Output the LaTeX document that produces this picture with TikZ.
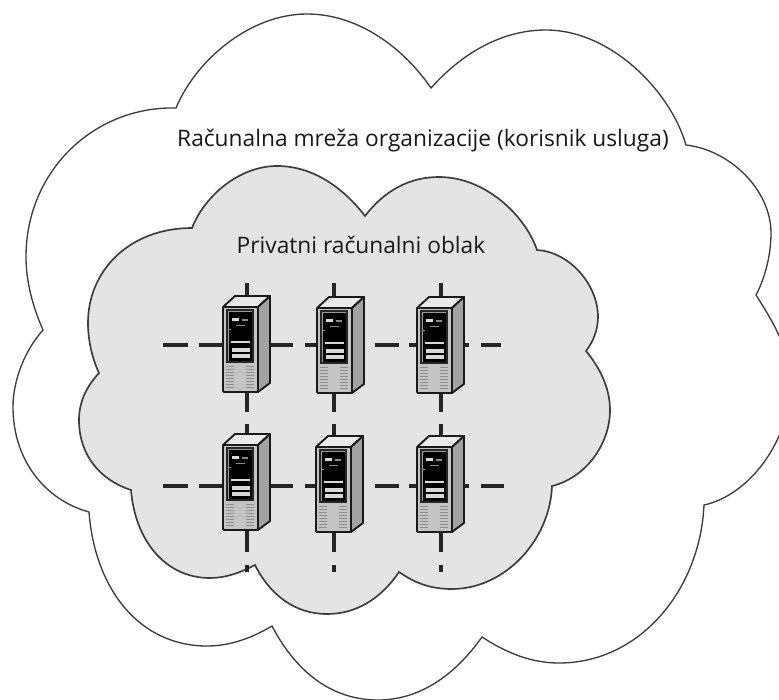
\documentclass[tikz,border=0pt]{standalone}
\usepackage{fontspec}
\setmainfont{Open Sans}
\definecolor{cloudfill}{HTML}{E4E4E4}
\definecolor{cloudline}{HTML}{3C3C3C}
\definecolor{srvfront}{HTML}{C4C4C4}
\definecolor{srvtop}{HTML}{EAEAEA}
\definecolor{srvside}{HTML}{A2A2A2}
\definecolor{srvgap}{HTML}{9A9A9A}
\definecolor{srvslat}{HTML}{8C8C8C}
\definecolor{srvbar}{HTML}{D8D8D8}
\definecolor{srvled}{HTML}{7FA87F}
\tikzset{
  outerline/.style={draw=cloudline,line width=1pt,line join=miter},
  innerline/.style={draw=cloudline,line width=1.25pt,line join=miter},
  wire/.style={draw=black!85,line width=2.3pt},
  junction/.style={inner sep=0pt,minimum size=0pt,outer sep=0pt},
  srvedge/.style={draw=black!90,line width=1.4pt,line join=round},
  slat/.style={draw=srvslat,line width=0.5pt},
  caption/.style={font=\fontsize{17.05pt}{20pt}\selectfont,text=black!90,inner sep=0pt,anchor=center},
}
\newcommand{\serverbox}[2]{%
\begin{scope}[shift={(#1,#2)}]
  \draw[srvedge,fill=srvtop] (0,0) -- (12,-11) -- (47,-11) -- (35,0) -- cycle;
  \draw[srvedge,fill=srvside] (35,0) -- (47,-11) -- (47,76) -- (35,85) -- cycle;
  \draw[srvedge,fill=srvfront,rounded corners=0.8pt] (0,0) rectangle (35,85);
  \draw[draw=black!85,line width=1pt,fill=srvgap] (4,3) rectangle (30,55);
  \draw[draw=black,line width=0.8pt,fill=black] (6.5,6) rectangle (28,53);
  \fill[srvbar] (8,34) rectangle (27,36);
  \fill[srvbar] (9,41) rectangle (27,44.5);
  \fill[srvbar] (9,47) rectangle (27,51);
  \fill[srvbar] (9,11) rectangle (16,14);
  \fill[srvslat] (19,12) rectangle (25,13.5);
  \fill[srvslat] (13,18) rectangle (22,18.6);
  \fill[srvled] (6,21.5) rectangle (8,23);
  \foreach \sy in {59,62,65,68,71,74,77,80}{
    \draw[slat] (3,\sy) -- (11,\sy);
    \draw[slat] (23,\sy) -- (31,\sy);
  }
\end{scope}}
\begin{document}
\begin{tikzpicture}[x=0.75pt,y=-0.75pt]
\useasboundingbox (0,0) rectangle (779,700);
\clip (0,0) rectangle (779,700);
\fill[white] (0,0) rectangle (779,700);
% outer cloud
\draw[outerline,fill=white] (176,108)
  .. controls (196,60) and (250,14) .. (307,14)
  .. controls (360,14) and (405,50) .. (431,88)
  .. controls (465,50) and (505,30) .. (546,30)
  .. controls (610,30) and (670,90) .. (686,145)
  .. controls (730,150) and (771,190) .. (771,233)
  .. controls (771,255) and (765,278) .. (756,295)
  .. controls (775,325) and (790,350) .. (790,385)
  .. controls (790,440) and (750,495) .. (704,505)
  .. controls (700,590) and (640,663) .. (559,663)
  .. controls (530,663) and (505,652) .. (482,637)
  .. controls (455,675) and (420,700) .. (378,700)
  .. controls (330,700) and (295,670) .. (272,626)
  .. controls (252,638) and (230,646) .. (207,646)
  .. controls (140,646) and (95,590) .. (89,512)
  .. controls (45,500) and (13,460) .. (13,407)
  .. controls (13,380) and (25,350) .. (43,330)
  .. controls (32,305) and (26,280) .. (26,257)
  .. controls (26,170) and (95,106) .. (176,108) -- cycle;
% inner cloud
\draw[innerline,fill=cloudfill] (192,228)
  .. controls (205,195) and (240,166) .. (277,166)
  .. controls (315,166) and (345,190) .. (365,216)
  .. controls (385,190) and (410,177) .. (439,177)
  .. controls (485,177) and (525,215) .. (537,250)
  .. controls (570,252) and (598,285) .. (598,317)
  .. controls (598,330) and (593,342) .. (586,351)
  .. controls (600,368) and (610,388) .. (610,410)
  .. controls (610,445) and (585,478) .. (552,486)
  .. controls (550,540) and (505,589) .. (452,589)
  .. controls (430,589) and (415,583) .. (399,572)
  .. controls (380,600) and (355,614) .. (327,614)
  .. controls (295,614) and (270,595) .. (255,565)
  .. controls (240,573) and (225,578) .. (210,578)
  .. controls (165,578) and (135,540) .. (131,490)
  .. controls (100,480) and (79,455) .. (79,420)
  .. controls (79,400) and (88,385) .. (99,373)
  .. controls (92,358) and (88,340) .. (88,323)
  .. controls (88,270) and (130,228) .. (192,228) -- cycle;
% captions
\node[caption] (outerlabel) at (423,141) {Računalna mreža organizacije (korisnik usluga)};
\node[caption] (innerlabel) at (361,245) {Privatni računalni oblak};
% server positions
\node[junction] (s11) at (247,345) {};
\node[junction] (s12) at (334,345) {};
\node[junction] (s13) at (441,345) {};
\node[junction] (s21) at (247,486) {};
\node[junction] (s22) at (334,486) {};
\node[junction] (s23) at (441,486) {};
\coordinate (l1) at (163,345);
\coordinate (r1) at (501,345);
\coordinate (l2) at (163,486);
\coordinate (r2) at (504,486);
\coordinate (t1) at (247,283);
\coordinate (t2) at (334,283);
\coordinate (t3) at (441,283);
\coordinate (b1) at (247,572);
\coordinate (b2) at (334,572);
\coordinate (b3) at (441,572);
% horizontal connectors
\foreach \a/\b/\c/\d/\e in {l1/s11/s12/s13/r1,l2/s21/s22/s23/r2}{
  \draw[wire,dash pattern=on 18.75pt off 8.25pt on 60pt off 1pt] (\a) -- (\b);
  \draw[wire,dash pattern=on 34.5pt off 9pt on 60pt off 1pt] (\b) -- (\c);
  \draw[wire,dash pattern=on 22.5pt off 8.25pt on 18pt off 7.5pt on 60pt off 1pt] (\c) -- (\d);
  \draw[wire,dash pattern=on 21pt off 9pt on 60pt off 1pt] (\d) -- (\e);
}
% vertical connectors
\foreach \t/\u/\v/\w in {t1/s11/s21/b1,t2/s12/s22/b2,t3/s13/s23/b3}{
  \draw[wire] (\t) -- (\u);
  \draw[wire,dash pattern=on 50.25pt off 9pt on 60pt off 1pt] (\u) -- (\v);
  \draw[wire,dash pattern=on 49.5pt off 9.75pt on 60pt off 1pt] (\v) -- (\w);
}
% servers
\serverbox{223}{307}
\serverbox{317}{308}
\serverbox{417}{308}
\serverbox{223}{445}
\serverbox{316}{447}
\serverbox{417}{447}
\end{tikzpicture}
\end{document}
